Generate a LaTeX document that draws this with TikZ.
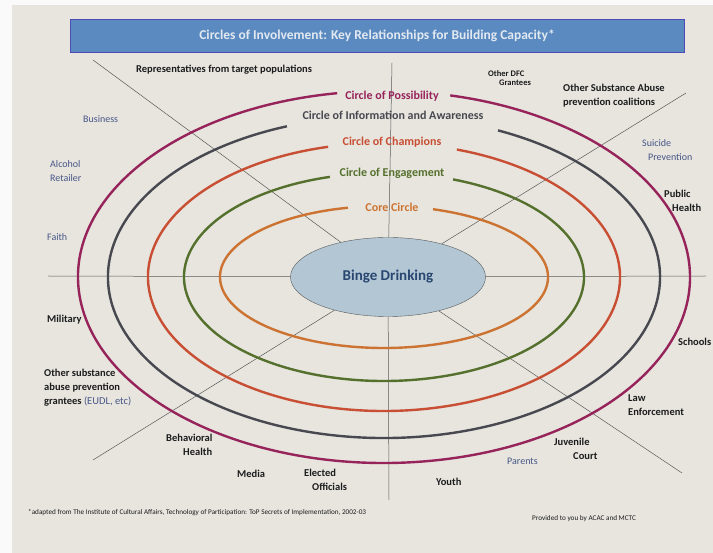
\documentclass[tikz,border=0pt]{standalone}
\usepackage{fontspec}
\setmainfont{Carlito}
\usepackage{tikz}
\newcommand{\ringwidth}{2.4pt}
\newcommand{\tagskip}{14}
\usetikzlibrary{shapes.geometric}
\pgfdeclarelayer{bg}
\pgfsetlayers{bg,main}
\definecolor{paper}{RGB}{231,229,222}
\definecolor{titleblue}{RGB}{90,138,192}
\definecolor{titletext}{RGB}{226,233,241}
\definecolor{possibility}{RGB}{150,35,90}
\definecolor{information}{RGB}{72,72,80}
\definecolor{champions}{RGB}{200,78,52}
\definecolor{engagement}{RGB}{85,112,45}
\definecolor{core}{RGB}{205,115,50}
\definecolor{tagblue}{RGB}{72,86,135}
\definecolor{tagblack}{RGB}{28,28,30}
\definecolor{bingefill}{RGB}{178,198,212}
\definecolor{bingetext}{RGB}{40,70,112}
\tikzset{
  x=1pt,y=-1pt,
  ring/.style={draw,line width=\ringwidth},
  axis/.style={draw,gray!70!black,line width=0.5pt},
  titlebar/.style={draw=gray!60!blue,fill=titleblue,line width=0.8pt,minimum width=614pt,minimum height=33pt,text=titletext,font=\fontsize{13.5}{15}\selectfont\bfseries},
  binge/.style={draw=gray!70!black,fill=bingefill,shape=ellipse,minimum width=195pt,minimum height=79pt,inner sep=0,text=bingetext,font=\fontsize{15}{17}\selectfont\bfseries},
  ringtext/.style={inner sep=1pt,font=\fontsize{12}{14}\selectfont\bfseries},
  tag/.style={anchor=west,align=left,inner sep=0,text=tagblack,font=\fontsize{10.5}{\tagskip}\selectfont\bfseries},
  bluetag/.style={tag,text=tagblue,font=\fontsize{10}{\tagskip}\selectfont},
  note/.style={anchor=west,inner sep=0,text=tagblack,font=\fontsize{7.2}{8}\selectfont}
}

\begin{document}
\begin{tikzpicture}
    \useasboundingbox (0,0) rectangle (713,553);

    \node (title) [titlebar] at (377,36) {Circles of Involvement: Key Relationships for Building Capacity*};
    \node (binge) [binge] at (388,277) {Binge Drinking};

    \coordinate (north) at (392,63);
    \coordinate (south) at (389,500);
    \coordinate (west) at (48,276);
    \coordinate (east) at (706,276);
    \coordinate (northwest) at (93,60);
    \coordinate (northeast) at (686,93);
    \coordinate (southwest) at (93,460);
    \coordinate (southeast) at (682,473);
    \coordinate (c) at (384,277);

    \begin{pgfonlayer}{bg}
      \path [fill=white!96!gray] (0,0) rectangle (713,553);
      \path [fill=paper] (12,5) rectangle (713,553);
      \path [axis] (north) -- (binge);
      \path [axis] (south) -- (binge);
      \path [axis] (west) -- (binge);
      \path [axis] (east) -- (binge);
      \path [axis] (northwest) -- (binge);
      \path [axis] (northeast) -- (binge);
      \path [axis] (southwest) -- (binge);
      \path [axis] (southeast) -- (binge);
    \end{pgfonlayer}

    % rings, open at the top where their names sit
    \path [ring,possibility] (c) ++(98.8:306pt and 186pt) arc[start angle=98.8,end angle=437.5,x radius=306pt,y radius=186pt];
    \path [ring,information] (c) ++(110.6:276pt and 161pt) arc[start angle=110.6,end angle=425.6,x radius=276pt,y radius=161pt];
    \path [ring,champions] (c) ++(103.7:236pt and 134pt) arc[start angle=103.7,end angle=432,x radius=236pt,y radius=134pt];
    \path [ring,engagement] (c) ++(105.7:200pt and 104pt) arc[start angle=105.7,end angle=429.8,x radius=200pt,y radius=104pt];
    \path [ring,core] (c) ++(102.7:164pt and 71pt) arc[start angle=102.7,end angle=432.6,x radius=164pt,y radius=71pt];

    \node (possibilitytext) [ringtext,text=possibility] at (392,96) {Circle of Possibility};
    \node (informationtext) [ringtext,text=information] at (393,115) {Circle of Information and Awareness};
    \node (championstext) [ringtext,text=champions] at (392,142) {Circle of Champions};
    \node (engagementtext) [ringtext,text=engagement] at (392,173) {Circle of Engagement};
    \node (coretext) [ringtext,text=core] at (392,207) {Core Circle};

    \node (representatives) [tag] at (136,70) {Representatives from target populations};
    \node (dfc) [tag,font=\fontsize{8.5}{9}\selectfont\bfseries] at (488,78) {Other DFC\\\hspace*{11pt}Grantees};
    \node (coalitions) [tag] at (563,96) {Other Substance Abuse\\prevention coalitions};
    \node (business) [bluetag] at (83,119) {Business};
    \node (retailer) [bluetag] at (50,171) {Alcohol\\Retailer};
    \node (faith) [bluetag] at (47,237) {Faith};
    \node (suicide) [bluetag] at (642,150) {Suicide\\\hspace*{6pt}Prevention};
    \node (publichealth) [tag] at (664,201) {Public\\\hspace*{8pt}Health};
    \node (military) [tag] at (47,320) {Military};
    \node (grantees) [tag] at (44,388) {Other substance\\abuse prevention\\grantees {\mdseries\color{tagblue}(EUDL, etc)}};
    \node (behavioral) [tag] at (166,445) {Behavioral\\\hspace*{17pt}Health};
    \node (media) [tag] at (237,474) {Media};
    \node (elected) [tag] at (304,480) {Elected\\\hspace*{8pt}Officials};
    \node (youth) [tag] at (436,482) {Youth};
    \node (parents) [bluetag] at (507,461) {Parents};
    \node (juvenile) [tag] at (554,449) {Juvenile\\\hspace*{19pt}Court};
    \node (law) [tag] at (628,405) {Law\\Enforcement};
    \node (schools) [tag] at (678,342) {Schools};

    \node (source) [note] at (28,513) {*adapted from The Institute of Cultural Affairs, Technology of Participation: ToP Secrets of Implementation, 2002-03};
    \node (provided) [note] at (532,519) {Provided to you by ACAC and MCTC};
  \end{tikzpicture}
\end{document}
